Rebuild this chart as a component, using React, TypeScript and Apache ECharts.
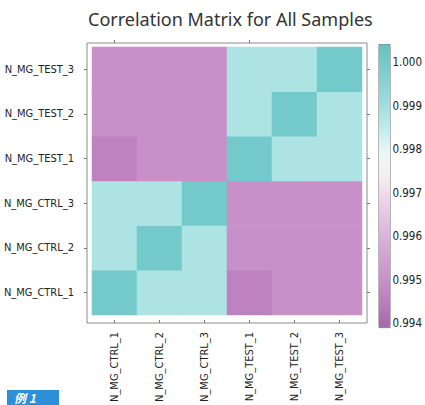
import React, { useEffect, useRef } from "react";
import * as echarts from "echarts";

const samples = ["N_MG_CTRL_1", "N_MG_CTRL_2", "N_MG_CTRL_3", "N_MG_TEST_1", "N_MG_TEST_2", "N_MG_TEST_3"];

// correlation matrix, rows/cols in the order of `samples`
const rowCtrl1 = [1.0, 0.9988, 0.9988, 0.9946, 0.9950, 0.9950];
const rowCtrl2 = [0.9988, 1.0, 0.9988, 0.9950, 0.9950, 0.9950];
const rowCtrl3 = [0.9988, 0.9988, 1.0, 0.9950, 0.9950, 0.9950];
const rowTest1 = [0.9946, 0.9950, 0.9950, 1.0, 0.9988, 0.9988];
const rowTest2 = [0.9950, 0.9950, 0.9950, 0.9988, 1.0, 0.9988];
const rowTest3 = [0.9950, 0.9950, 0.9950, 0.9988, 0.9988, 1.0];
const matrix = [rowCtrl1, rowCtrl2, rowCtrl3, rowTest1, rowTest2, rowTest3];

const colorbarTicks = [0.994, 0.995, 0.996, 0.997, 0.998, 0.999, 1.0];
const colorbarMin = 0.9939;
const colorbarMax = 1.0004;
const colorStops = [
  "#ab64ae", "#b97abb", "#c58dc7", "#cf9ed0", "#d9afd9", "#e3c2e2", "#eed7eb",
  "#f7eef3", "#eaf8f6", "#c6eded", "#a7e0e0", "#8fd5d6", "#78cccc", "#62c1c1",
];

const FONT_NARROW = "'Liberation Sans Narrow', 'DejaVu Sans Condensed', sans-serif";

export default function App() {
  const ref = useRef<HTMLDivElement>(null);
  useEffect(() => {
    if (!ref.current) return;
    const chart = echarts.init(ref.current, null, { renderer: "svg" });
    const data: [number, number, number][] = [];
    matrix.forEach((row, i) => row.forEach((v, j) => data.push([i, j, v])));

    const hiddenValue = (gridIndex: number) => ({ type: "value", gridIndex, show: false, min: 0, max: 1 });

    const option: any = {
      animation: false,
      backgroundColor: "#ffffff",
      title: {
        text: "Correlation Matrix for All Samples",
        left: 83,
        top: 5,
        textStyle: { fontFamily: "'Noto Sans', sans-serif", fontSize: 18, fontWeight: "normal", color: "#333" },
      },
      grid: [
        { left: 92, top: 47, width: 270, height: 271 },
        { left: 87, top: 43, width: 280, height: 280, show: true, borderColor: "#8a8a8a", borderWidth: 1, backgroundColor: "transparent" },
        { left: 379, top: 44.6, width: 11, height: 283, show: true, borderColor: "#6f6f6f", borderWidth: 1, backgroundColor: "transparent" },
        { left: 379, top: 62, width: 11, height: 261 },
      ],
      xAxis: [
        {
          type: "category", gridIndex: 0, data: samples, position: "bottom", offset: 5,
          axisLine: { show: false },
          axisTick: { show: true, alignWithLabel: true, length: 3, lineStyle: { color: "#777" } },
          axisLabel: { rotate: 90, margin: 12, fontFamily: FONT_NARROW, fontSize: 11, color: "#222" },
          splitLine: { show: false },
        },
        {
          type: "category", gridIndex: 0, data: samples, position: "top", offset: 4,
          axisLine: { show: false },
          axisTick: { show: true, alignWithLabel: true, length: 3, lineStyle: { color: "#777" } },
          axisLabel: { show: false },
        },
        hiddenValue(1),
        hiddenValue(2),
        hiddenValue(3),
      ],
      yAxis: [
        {
          type: "category", gridIndex: 0, data: samples, position: "left", offset: 5,
          axisLine: { show: false },
          axisTick: { show: true, alignWithLabel: true, length: 3, lineStyle: { color: "#777" } },
          axisLabel: { margin: 13, fontFamily: FONT_NARROW, fontSize: 11, color: "#222" },
          splitLine: { show: false },
        },
        {
          type: "category", gridIndex: 0, data: samples, position: "right", offset: 5,
          axisLine: { show: false },
          axisTick: { show: true, alignWithLabel: true, length: 3, lineStyle: { color: "#777" } },
          axisLabel: { show: false },
        },
        hiddenValue(1),
        hiddenValue(2),
        {
          type: "value", gridIndex: 3, position: "right", min: 0.994, max: 1.0, interval: 0.001,
          axisLine: { show: false },
          axisTick: { show: true, length: 3, lineStyle: { color: "#777" } },
          splitLine: { show: false },
          axisLabel: {
            margin: 7, fontFamily: FONT_NARROW, fontSize: 11.5, color: "#222",
            formatter: (v: number) => (colorbarTicks.some((t) => Math.abs(t - v) < 1e-7) ? v.toFixed(3) : ""),
          },
        },
      ],
      visualMap: {
        type: "continuous",
        min: colorbarMin,
        max: colorbarMax,
        calculable: false,
        hoverLink: false,
        orient: "vertical",
        left: 379,
        top: 44.6,
        padding: 0,
        itemWidth: 11,
        itemHeight: 283,
        seriesIndex: 0,
        inRange: { color: colorStops },
      },
      graphic: [
        {
          type: "rect",
          left: 7,
          top: 390,
          shape: { width: 52, height: 15 },
          style: { fill: "#2d8fd8" },
        },
        {
          type: "text",
          left: 14,
          top: 391,
          style: {
            text: "例 1",
            fill: "#ffffff",
            font: "italic bold 12px 'Noto Sans CJK SC', sans-serif",
          },
        },
      ],
      series: [
        {
          type: "heatmap",
          xAxisIndex: 0,
          yAxisIndex: 0,
          data,
          itemStyle: { borderWidth: 0 },
          emphasis: { disabled: true },
        },
      ],
    };
    chart.setOption(option);
    return () => chart.dispose();
  }, []);
  return <div ref={ref} style={{ position: "fixed", left: 0, top: 0, width: 425, height: 405 }} />;
}
